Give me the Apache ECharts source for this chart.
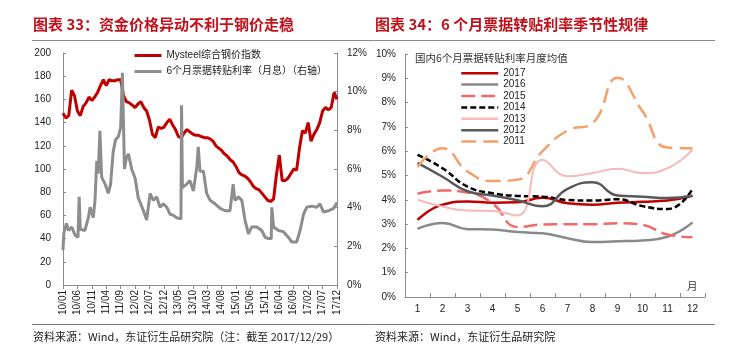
<!DOCTYPE html>
<html><head><meta charset="utf-8">
<script src="https://cdn.jsdelivr.net/npm/echarts@6/dist/echarts.min.js"></script>
<style>html,body{margin:0;padding:0;background:#fff}#c{width:741px;height:361px}</style>
</head><body><div id="c"></div>
<script>
// ---------- Left chart data ----------
const leftTickLabels = ['10/01','10/06','10/11','11/04','11/09','12/02','12/07','12/12','13/05','13/10',
  '14/03','14/08','15/01','15/06','15/11','16/04','16/09','17/02','17/07','17/12'];
// Mysteel综合钢价指数, monthly from 2010/01 (index 0) to 2017/12 (index 95)
const steelIndex = [
  148,144,146,168,163,150,146,154,157,162,159,162,
  166,172,177,172,177,176,176,177,177,163,158,157,
  155,153,156,158,153,150,142,130,127,136,135,136,
  140,143,138,134,128,127,131,134,132,130,129,129,
  128,127,127,126,124,120,118,116,113,111,108,106,
  102,97,95,94,92,89,85,83,82,79,76,73,
  72,74,95,112,90,90,92,96,100,99,118,133,
  131,140,124,130,134,140,150,153,151,153,166,160];
// 6个月票据转贴利率（月息）: month position (0 = 2010/01) and rate (%)
const rateMonth = [0,0.3,1.2,1.9,3,4.2,5.2,5.6,6.0,7.6,8.8,9.4,10.5,11.1,11.7,12.2,12.8,13.4,14.6,15.7,
  16.5,17.4,18.2,19.2,20,20.6,21.3,22,22.7,23.8,25,26.1,27.9,29,30.2,31.3,32.5,33.6,34.8,36,
  37.1,38.3,39.4,40.9,41.1,41.4,42.9,44,45.2,46.4,46.9,47.5,48.7,49.8,51,52.7,54.5,56.2,57.9,59.0,
  59.6,60.8,62,63.1,64.3,65.4,67.2,68.9,70.1,71.2,72.2,72.4,73,74.7,76.4,78.2,79.3,81,82.2,83.4,
  84.5,86.2,88,89.1,90.3,92,93.8,95];
const rateValue = [1.8,2.7,3.18,2.82,3.0,2.58,2.46,4.56,2.88,2.82,3.48,4.02,3.48,4.38,6.42,5.76,7.98,5.58,5.22,4.74,
  5.22,6.9,7.5,7.68,8.16,10.98,6.0,6.6,6.78,6.0,5.52,4.5,3.84,3.36,4.74,4.38,4.56,4.02,4.2,4.02,
  3.66,3.6,3.48,3.42,9.3,5.04,5.22,5.4,4.86,6.12,7.14,5.88,5.88,4.74,4.38,4.2,3.96,3.84,3.84,5.22,
  4.38,4.56,4.38,3.36,2.64,3.0,3.0,2.82,2.46,2.4,2.4,4.02,3.0,2.82,2.76,2.46,2.22,2.22,2.82,3.66,
  4.02,4.08,4.02,4.2,3.78,3.84,3.96,4.26];

// ---------- Right chart data ----------
const monthLabels = ['1','2','3','4','5','6','7','8','9','10','11','12'];
const y2017 = [3.17,3.8,3.93,3.88,3.9,4.08,3.86,3.8,3.88,3.92,3.97,4.16];
const y2016 = [2.8,3.05,2.79,2.78,2.67,2.62,2.42,2.26,2.29,2.33,2.48,3.07];
const y2015 = [4.25,4.38,4.3,3.85,2.88,2.98,2.99,2.99,3.04,2.97,2.57,2.46];
const y2014 = [5.85,5.3,4.54,4.27,4.16,4.13,3.99,3.97,4.02,3.74,3.62,4.45];
const y2013 = [4.0,3.72,3.56,3.54,3.35,5.65,4.97,5.1,5.28,5.1,5.3,6.06];
const y2012 = [5.52,4.95,4.35,4.18,3.98,3.73,4.45,4.72,4.18,4.13,4.07,4.18];
const y2011 = [5.35,6.12,5.17,4.77,4.83,6.0,6.85,7.15,9.02,7.64,6.15,6.12];

const FONT = "'Liberation Sans','Noto Sans CJK SC',sans-serif";
const axisColor = '#8c8c8c';
const lab = {fontSize:10, color:'#222', fontFamily:FONT};

const chart = echarts.init(document.getElementById('c'));
const rightSeries = [
  ['2017', y2017, '#c00000', 'solid', 2.5],
  ['2016', y2016, '#8a8a8a', 'solid', 2.5],
  ['2015', y2015, '#f06a6a', [14,6], 2.5],
  ['2014', y2014, '#000000', [6,3], 2.5],
  ['2013', y2013, '#f7b9b9', 'solid', 2],
  ['2012', y2012, '#595959', 'solid', 2.5],
  ['2011', y2011, '#f5a06a', [15,7], 2.5]
].map(([name, data, color, type, width]) => ({
  name, type:'line', xAxisIndex:1, yAxisIndex:2, data, smooth:true, symbol:'none',
  lineStyle:{color, type, width}, itemStyle:{color}
}));

chart.setOption({
  animation:false,
  grid:[{left:63,right:404,top:53,bottom:76},{left:405,right:36,top:54,bottom:64}],
  legend:[
    {data:['Mysteel综合钢价指数','6个月票据转贴利率（月息）（右轴）'], orient:'vertical', left:133, top:50,
     padding:0, itemWidth:27, itemHeight:10, itemGap:5, lineStyle:{width:3}, itemStyle:{opacity:0},
     textStyle:{fontSize:10, lineHeight:11, color:'#222', fontFamily:FONT}},
    {data:['2017','2016','2015','2014','2013','2012','2011'], orient:'vertical', left:460, top:67.5,
     padding:0, itemWidth:37, itemHeight:8, itemGap:0, lineStyle:{width:2.5}, itemStyle:{opacity:0},
     textStyle:{fontSize:10, lineHeight:11.4, color:'#222', fontFamily:FONT}}
  ],
  xAxis:[
    {gridIndex:0, type:'value', min:0, max:95, interval:5,
     axisLine:{show:true, lineStyle:{color:axisColor}},
     axisTick:{show:true, inside:false, length:4, lineStyle:{color:axisColor}},
     axisLabel:Object.assign({}, lab, {rotate:90, margin:5, formatter:v => leftTickLabels[Math.round(v/5)]}),
     splitLine:{show:false}},
    {gridIndex:1, type:'category', data:monthLabels, boundaryGap:true,
     axisLine:{show:true, lineStyle:{color:axisColor}},
     axisTick:{show:true, inside:true, length:4, alignWithLabel:false, lineStyle:{color:axisColor}},
     axisLabel:Object.assign({}, lab, {margin:7}),
     splitLine:{show:false}}
  ],
  yAxis:[
    {gridIndex:0, type:'value', min:0, max:200, interval:20,
     axisLine:{show:true, lineStyle:{color:axisColor}},
     axisTick:{show:true, inside:true, length:3, lineStyle:{color:axisColor}},
     axisLabel:Object.assign({}, lab, {margin:12}), splitLine:{show:false}},
    {gridIndex:0, type:'value', position:'right', min:0, max:12, interval:2,
     axisLine:{show:true, lineStyle:{color:axisColor}},
     axisTick:{show:true, inside:true, length:3, lineStyle:{color:axisColor}},
     axisLabel:Object.assign({}, lab, {margin:10, formatter:'{value}%'}), splitLine:{show:false}},
    {gridIndex:1, type:'value', min:0, max:10, interval:1,
     axisLine:{show:true, lineStyle:{color:axisColor}},
     axisTick:{show:true, inside:true, length:3, lineStyle:{color:axisColor}},
     axisLabel:Object.assign({}, lab, {margin:9, formatter:'{value}%'}), splitLine:{show:false}}
  ],
  series:[
    {name:'Mysteel综合钢价指数', type:'line', xAxisIndex:0, yAxisIndex:0, symbol:'none',
     data:steelIndex.map((v,i)=>[i,v]), lineStyle:{color:'#c00000', width:3}, itemStyle:{color:'#c00000'}},
    {name:'6个月票据转贴利率（月息）（右轴）', type:'line', xAxisIndex:0, yAxisIndex:1, symbol:'none',
     data:rateMonth.map((m,i)=>[m, rateValue[i]]), lineStyle:{color:'#8d8d8d', width:3}, itemStyle:{color:'#8d8d8d'}}
  ].concat(rightSeries),
  graphic:[
    {type:'text', left:33, top:17, style:{text:'图表 33：资金价格异动不利于钢价走稳', fill:'#c0121c', font:"bold 15px 'Noto Sans CJK SC', sans-serif"}},
    {type:'text', left:375, top:17, style:{text:'图表 34：6 个月票据转贴利率季节性规律', fill:'#c0121c', font:"bold 15px 'Noto Sans CJK SC', sans-serif"}},
    {type:'line', shape:{x1:32,y1:40.5,x2:715,y2:40.5}, style:{stroke:'#8a8a8a', lineWidth:1}},
    {type:'line', shape:{x1:32,y1:324.5,x2:715,y2:324.5}, style:{stroke:'#777', lineWidth:1}},
    {type:'text', left:33, top:331, style:{text:'资料来源：Wind，东证衍生品研究院（注：截至 2017/12/29）', fill:'#222', font:"11px 'Noto Sans CJK SC', sans-serif"}},
    {type:'text', left:375, top:331, style:{text:'资料来源：Wind，东证衍生品研究院', fill:'#222', font:"11px 'Noto Sans CJK SC', sans-serif"}},
    {type:'text', left:415, top:53, style:{text:'国内6个月票据转贴利率月度均值', fill:'#333', font:"10.5px 'Noto Sans CJK SC', sans-serif"}},
    {type:'text', left:687, top:281, style:{text:'月', fill:'#333', font:"10.5px 'Noto Sans CJK SC', sans-serif"}}
  ]
});
</script>
</body></html>
